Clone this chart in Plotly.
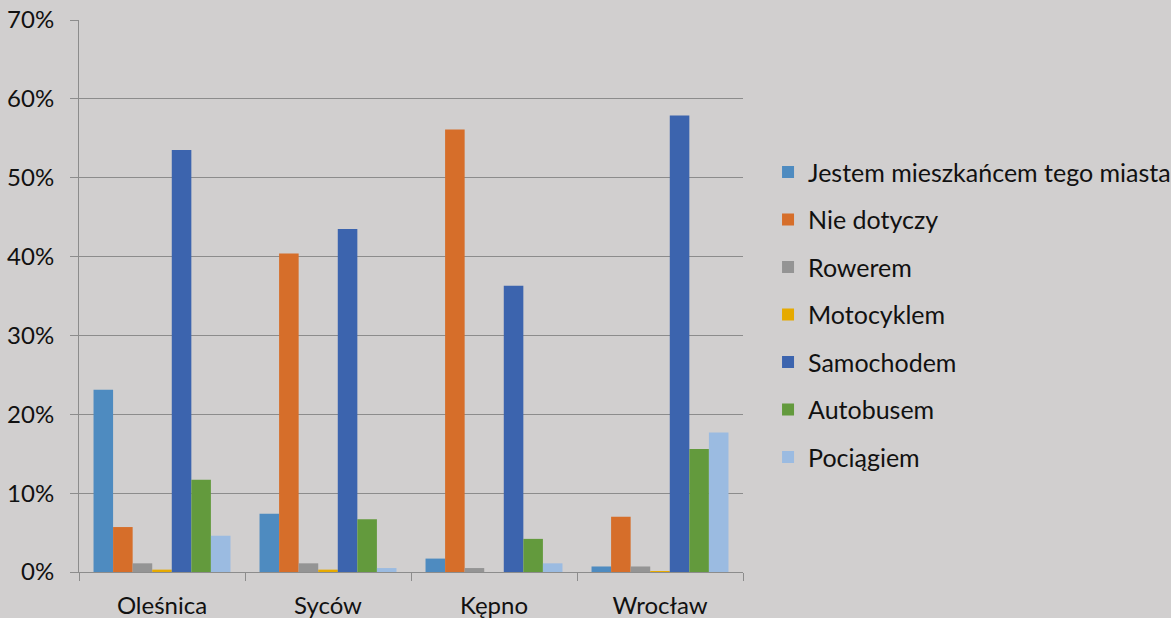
import plotly.graph_objects as go

categories = ["Oleśnica", "Syców", "Kępno", "Wrocław"]
series_names = ["Jestem mieszkańcem tego miasta", "Nie dotyczy", "Rowerem", "Motocyklem",
                "Samochodem", "Autobusem", "Pociągiem"]
jestem = [23.1, 7.4, 1.7, 0.7]
nie_dotyczy = [5.7, 40.4, 56.1, 7.0]
rowerem = [1.1, 1.1, 0.5, 0.7]
motocyklem = [0.3, 0.3, 0.0, 0.1]
samochodem = [53.5, 43.5, 36.3, 57.9]
autobusem = [11.7, 6.7, 4.2, 15.6]
pociagiem = [4.6, 0.5, 1.1, 17.7]
values = [jestem, nie_dotyczy, rowerem, motocyklem, samochodem, autobusem, pociagiem]
colors = ["#4e8bc0", "#d66e2a", "#949494", "#e6aa00", "#3c64ae", "#639a3d", "#9bbbe1"]

FONT = "Lato"
fig = go.Figure()
for i, (name, vals, col) in enumerate(zip(series_names, values, colors)):
    fig.add_trace(go.Bar(x=categories, y=[v / 100 for v in vals], name=name,
                         marker=dict(color=col, line=dict(width=0)),
                         legendgroup=f"g{i}"))

fig.update_layout(
    width=1171, height=618,
    paper_bgcolor="#d1cfcf", plot_bgcolor="#d1cfcf",
    margin=dict(l=79, r=428, t=20, b=46, autoexpand=False),
    barmode="group", bargap=0.175, bargroupgap=0,
    font=dict(family=FONT, size=24, color="#111111"),
    legend=dict(x=1.0377, xanchor="left", y=0.466, yanchor="middle",
                font=dict(family=FONT, size=25, color="#111111"),
                tracegroupgap=12, traceorder="grouped", bgcolor="rgba(0,0,0,0)"),
    showlegend=True,
)
fig.update_yaxes(range=[0, 0.7], dtick=0.1, tickformat=".0%", showgrid=True,
                 gridcolor="#8c8c8c", gridwidth=1, showline=True, linecolor="#8c8c8c",
                 ticks="outside", ticklen=8, tickcolor="#8c8c8c", zeroline=False,
                 automargin=False, ticklabelstandoff=11,
                 tickfont=dict(family=FONT, size=24, color="#111111"))
fig.update_xaxes(showline=True, linecolor="#8c8c8c", ticks="outside", ticklen=8,
                 tickcolor="#8c8c8c", tickson="boundaries", automargin=False,
                 ticklabelstandoff=12,
                 tickfont=dict(family=FONT, size=24, color="#111111"))

fig.write_html("out.html")
